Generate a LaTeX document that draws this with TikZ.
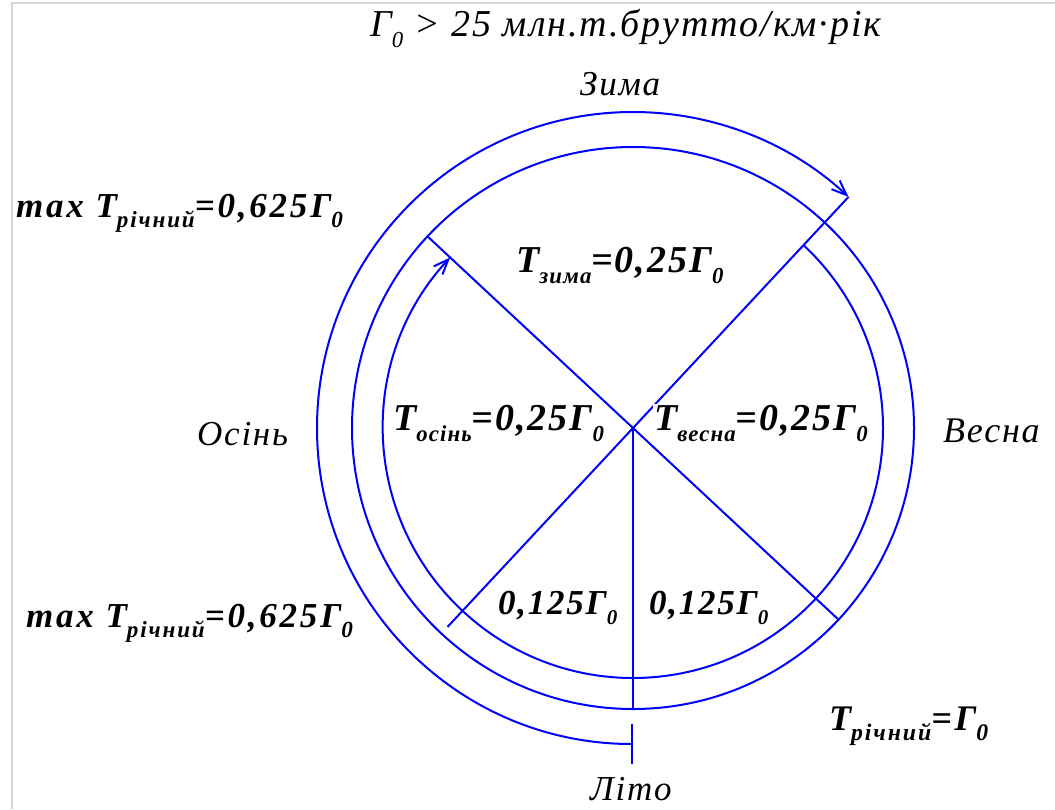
\documentclass[tikz,border=0pt]{standalone}
\usepackage{fontspec}
\usepackage{graphicx}
\setmainfont{Liberation Serif}
\newfontfamily\lsf[LetterSpace=5]{Liberation Serif}
\newfontfamily\lsfw[LetterSpace=8]{Liberation Serif}
\usetikzlibrary{arrows.meta,calc}
\newcommand\sbs[1]{\raisebox{-0.3em}{\scalebox{0.6}{#1}}}
\newcommand\sbw[1]{\raisebox{-0.3em}{\scalebox{0.66}{#1}}}
\newcommand\fsz[1]{\fontsize{#1}{#1}\selectfont}
\definecolor{lineblue}{RGB}{0,0,255}
\definecolor{framegray}{RGB}{215,215,215}
\begin{document}
\begin{tikzpicture}[x=1pt,y=-1pt,
  ring/.style={draw=lineblue,line width=2pt},
  tip/.style={-{Straight Barb[length=15pt,width=12pt]}},
  lbl/.style={anchor=base west,inner sep=1pt,fill=white},
  word/.style={anchor=base west,inner sep=0pt}]
\useasboundingbox (0,0) rectangle (1055,809);
\draw[framegray,line width=1.2pt] (12,809) -- (12,3) -- (1055,3);
\coordinate (C) at (633,428);
% rings
\draw[ring] (C) circle[radius=281];
\coordinate (inS) at ($(C)+(-47:250)$);
\draw[ring,tip] (inS) arc[start angle=-47,end angle=223,radius=250];
\coordinate (outS) at ($(C)+(90:316)$);
\draw[ring,{Bar[width=40pt]}-{Straight Barb[length=15pt,width=12pt]}] (outS) arc[start angle=90,end angle=313,radius=316];
% spokes
\coordinate (ur) at ($(C)+(-47:316)$);
\coordinate (ul) at ($(C)+(-137:281)$);
\coordinate (lr) at ($(C)+(43:281)$);
\coordinate (ll) at ($(C)+(133:272)$);
\coordinate (dn) at ($(C)+(90:281)$);
\draw[ring] (C) -- (ur);
\draw[ring] (C) -- (ul);
\draw[ring] (C) -- (lr);
\draw[ring] (C) -- (ll);
\draw[ring] (C) -- (dn);
% texts
\node[word,font=\lsf\itshape\fsz{38}] (title) at (370,36) {Г\sbs{0} > 25 млн.т.брутто/км·рік};
\node[word,font=\lsf\itshape\fsz{35}] (zima) at (580,95) {Зима};
\node[word,font=\lsf\itshape\fsz{35}] (osin) at (197,445) {Осінь};
\node[word,font=\lsf\itshape\fsz{36}] (vesna) at (943,442) {Весна};
\node[word,font=\lsf\itshape\fsz{35}] (lito) at (590,800) {Літо};
\node[lbl,font=\lsfw\bfseries\itshape\fsz{35}] (maxu) at (15,217) {max Т\sbw{річний}=0,625Г\sbw{0}};
\node[lbl,font=\lsfw\bfseries\itshape\fsz{35}] (maxl) at (25,627) {max Т\sbw{річний}=0,625Г\sbw{0}};
\node[lbl,font=\lsfw\bfseries\itshape\fsz{36}] (trich) at (828,730) {Т\sbw{річний}=Г\sbw{0}};
\node[lbl,font=\lsf\bfseries\itshape\fsz{38}] (tzima) at (515,272) {Т\sbs{зима}=0,25Г\sbs{0}};
\node[lbl,font=\lsf\bfseries\itshape\fsz{38}] (tosin) at (392,430) {Т\sbs{осінь}=0,25Г\sbs{0}};
\node[lbl,font=\lsf\bfseries\itshape\fsz{38}] (tvesna) at (653,430) {Т\sbs{весна}=0,25Г\sbs{0}};
\node[lbl,font=\lsf\bfseries\itshape\fsz{35}] (qa) at (497,614) {0,125Г\sbs{0}};
\node[lbl,font=\lsf\bfseries\itshape\fsz{35}] (qb) at (648,614) {0,125Г\sbs{0}};
\end{tikzpicture}
\end{document}
